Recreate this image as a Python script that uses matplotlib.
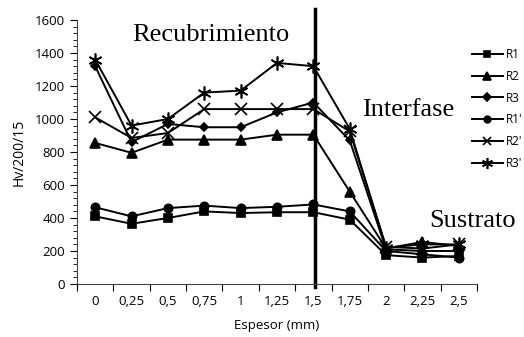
import numpy as np
import matplotlib.pyplot as plt
from matplotlib.ticker import MultipleLocator, FixedLocator, NullFormatter

# Espesor (mm) - categorias del eje x
espesor = ['0', '0,25', '0,5', '0,75', '1', '1,25', '1,5', '1,75', '2', '2,25', '2,5']

# Dureza Hv/200/15 para cada serie
r1 = [410, 365, 400, 440, 430, 435, 435, 390, 175, 160, 170]
r2 = [855, 795, 875, 875, 875, 905, 905, 560, 215, 255, 230]
r3 = [1320, 860, 970, 950, 950, 1040, 1100, 870, 210, 200, 200]
r1p = [465, 410, 460, 475, 460, 468, 482, 440, 200, 180, 160]
r2p = [1010, 885, 915, 1060, 1060, 1060, 1060, 925, 225, 215, 240]
r3p = [1360, 960, 1000, 1160, 1172, 1340, 1320, 940, 220, 240, 240]

series = [
    ('R1', r1, 's', 6),
    ('R2', r2, '^', 7),
    ('R3', r3, 'D', 4.5),
    ("R1'", r1p, 'o', 6),
    ("R2'", r2p, 'x', 8),
    ("R3'", r3p, (6, 2, 0), 10),
]

plt.rcParams['font.family'] = ['Open Sans', 'DejaVu Sans']

W, H = 524, 337
fig = plt.figure(figsize=(W / 100, H / 100), dpi=100)
ax = fig.add_axes([77 / W, 1 - 284 / H, 400 / W, 264 / H])

x = np.arange(len(espesor))
for name, vals, mk, ms in series:
    ax.plot(x, vals, color='black', lw=1.4, marker=mk, markersize=ms,
            markeredgewidth=1.2, label=name)

# linea vertical de la interfase
ax.plot([6.05, 6.05], [-18, 1667], color='black', lw=2.5, clip_on=False)

ax.set_xlim(-0.5, len(espesor) - 0.5)
ax.set_ylim(0, 1600)
ax.yaxis.set_major_locator(MultipleLocator(200))
ax.yaxis.set_minor_locator(MultipleLocator(40))
ax.xaxis.set_major_locator(FixedLocator(np.arange(-0.5, len(espesor), 1)))
ax.xaxis.set_major_formatter(NullFormatter())
ax.xaxis.set_minor_locator(FixedLocator(x))
ax.set_xticklabels(espesor, minor=True)
ax.tick_params(axis='x', which='minor', length=0, labelsize=9.5, pad=8)
ax.tick_params(axis='x', which='major', length=5, direction='out')
ax.tick_params(axis='y', which='major', length=5, labelsize=9.5)
ax.tick_params(axis='y', which='minor', length=3)
for s in ['top', 'right']:
    ax.spines[s].set_visible(False)
ax.spines['left'].set_color('#444444')
ax.spines['bottom'].set_color('#444444')

ax.set_xlabel('Espesor (mm)', fontsize=9.5, labelpad=8)
ax.set_ylabel('Hv/200/15', fontsize=10, labelpad=6)

serif = ['Liberation Serif', 'DejaVu Serif']
fig.text(211 / W, 1 - 35 / H, 'Recubrimiento', family=serif, fontsize=19,
         ha='center', va='center')
fig.text(408 / W, 1 - 110 / H, 'Interfase', family=serif, fontsize=19,
         ha='center', va='center')
fig.text(473 / W, 1 - 221 / H, 'Sustrato', family=serif, fontsize=19,
         ha='center', va='center')

leg = ax.legend(loc='upper left', bbox_to_anchor=(466 / W, 1 - 42 / H),
                bbox_transform=fig.transFigure, frameon=False, fontsize=8.5,
                handlelength=2.6, handletextpad=0.3, labelspacing=0.75,
                borderpad=0, markerscale=0.8)

fig.savefig('out.png', dpi=100)
